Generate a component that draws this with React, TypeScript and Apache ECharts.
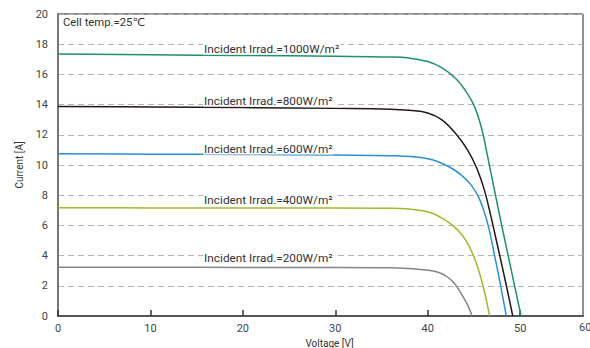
import React, { useEffect, useRef } from "react";
import * as echarts from "echarts";

// Voltage [V] / Current [A] readings for each irradiance curve
const voltage1000 = [0, 10, 20, 30, 36, 38, 40, 41.5, 43, 44, 45, 45.8, 46.5, 47.2, 47.9, 48.6, 49.4, 50.1];
const current1000 = [17.35, 17.3, 17.25, 17.2, 17.15, 17.08, 16.85, 16.45, 15.75, 15.0, 13.95, 12.5, 10.5, 8.4, 6.3, 4.3, 2.0, 0];

const voltage800 = [0, 10, 20, 30, 36, 38, 40, 41.5, 43, 44.3, 45.3, 46.1, 46.8, 47.5, 48.3, 49.2];
const current800 = [13.87, 13.84, 13.8, 13.75, 13.7, 13.62, 13.45, 13.0, 12.1, 11.0, 9.8, 8.4, 6.7, 4.8, 2.6, 0];

const voltage600 = [0, 10, 20, 30, 36, 38.5, 40.5, 42.4, 43.6, 44.6, 45.4, 46.0, 46.6, 47.2, 47.8, 48.5];
const current600 = [10.74, 10.72, 10.7, 10.66, 10.62, 10.55, 10.35, 9.85, 9.35, 8.75, 8.0, 7.1, 5.85, 4.1, 2.3, 0];

const voltage400 = [0, 10, 20, 30, 36, 38, 40, 41.5, 42.8, 43.8, 44.5, 45.2, 45.9, 46.7];
const current400 = [7.17, 7.16, 7.15, 7.15, 7.13, 7.08, 6.9, 6.5, 5.95, 5.3, 4.6, 3.6, 2.2, 0];

const voltage200 = [0, 10, 20, 30, 36, 38, 40, 41.2, 42.1, 42.9, 43.7, 44.3, 44.8];
const current200 = [3.23, 3.23, 3.22, 3.22, 3.2, 3.14, 3.03, 2.88, 2.6, 2.15, 1.4, 0.75, 0];

const seriesNames = ["1000", "800", "600", "400", "200"];
const seriesColors = ["#1f9068", "#231815", "#2e8fd0", "#9dbb30", "#858585"];
const curveLabels = [
  "Incident Irrad.=1000W/m²",
  "Incident Irrad.=800W/m²",
  "Incident Irrad.=600W/m²",
  "Incident Irrad.=400W/m²",
  "Incident Irrad.=200W/m²",
];
// label anchor points [V, A]
const labelAnchors: [number, number][] = [
  [15.7, 17.71],
  [15.7, 14.27],
  [15.7, 11.09],
  [15.7, 7.65],
  [15.7, 3.81],
];

const xTicks = { min: 0, max: 56.8, interval: 10 };
const yTicks = { min: 0, max: 20, interval: 2 };

const zip = (xs: number[], ys: number[]) => xs.map((x, i) => [x, ys[i]]);

export default function App() {
  const ref = useRef<HTMLDivElement>(null);
  useEffect(() => {
    if (!ref.current) return;
    document.body.style.margin = "0";
    const chart = echarts.init(ref.current, undefined, { renderer: "svg" });
    const all = [
      zip(voltage1000, current1000),
      zip(voltage800, current800),
      zip(voltage600, current600),
      zip(voltage400, current400),
      zip(voltage200, current200),
    ];
    const font = "Roboto, 'DejaVu Sans', sans-serif";
    chart.setOption({
      animation: false,
      textStyle: { fontFamily: font },
      grid: {
        left: 58,
        right: 7,
        top: 14,
        bottom: 32,
        show: true,
        borderColor: "#222",
        borderWidth: 1,
        containLabel: false,
        outerBoundsMode: "none",
      },
      xAxis: {
        type: "value",
        min: xTicks.min,
        max: xTicks.max,
        interval: xTicks.interval,
        name: "Voltage [V]",
        nameLocation: "middle",
        nameGap: 22,
        nameTextStyle: { color: "#333", fontSize: 10, fontFamily: font, padding: [0, 0, 0, 18] },
        axisLine: { show: true, lineStyle: { color: "#555", width: 2 } },
        axisTick: { show: true, inside: true, length: 6, lineStyle: { color: "#333", width: 1.5 } },
        axisLabel: { color: "#444", fontSize: 11, margin: 7, showMaxLabel: false, fontFamily: font },
        splitLine: { show: false },
      },
      yAxis: {
        type: "value",
        min: yTicks.min,
        max: yTicks.max,
        interval: yTicks.interval,
        name: "Current [A]",
        nameLocation: "middle",
        nameGap: 32,
        nameRotate: 90,
        nameTextStyle: { color: "#333", fontSize: 10, fontFamily: font },
        axisLine: { show: true, lineStyle: { color: "#777", width: 2 } },
        axisTick: { show: false },
        axisLabel: { color: "#444", fontSize: 11, margin: 10, fontFamily: font },
        splitLine: { show: true, lineStyle: { color: "#b4b4b4", width: 1, type: [6, 4] } },
      },
      graphic: [
        {
          type: "text",
          left: 63,
          top: 17,
          style: { text: "Cell temp.=25℃", fontSize: 11.3, fill: "#333", fontFamily: font },
        },
        {
          type: "text",
          left: 579,
          top: 322,
          style: { text: "60", fontSize: 11, fill: "#444", fontFamily: font },
        },
      ],
      series: all.map((data, i) => ({
        name: seriesNames[i],
        type: "line",
        data,
        smooth: 0.4,
        showSymbol: false,
        symbol: "none",
        lineStyle: { color: seriesColors[i], width: 1.5 },
        markPoint: {
          symbol: "circle",
          symbolSize: 0,
          silent: true,
          data: [
            {
              coord: labelAnchors[i],
              label: {
                show: true,
                position: "right",
                distance: 0,
                formatter: curveLabels[i],
                color: "#333",
                fontSize: 11.8,
                fontFamily: font,
                backgroundColor: "#fff",
                padding: [0, 1],
              },
            },
          ],
        },
      })),
    });
    return () => chart.dispose();
  }, []);
  return <div ref={ref} style={{ width: 590, height: 348 }} />;
}
